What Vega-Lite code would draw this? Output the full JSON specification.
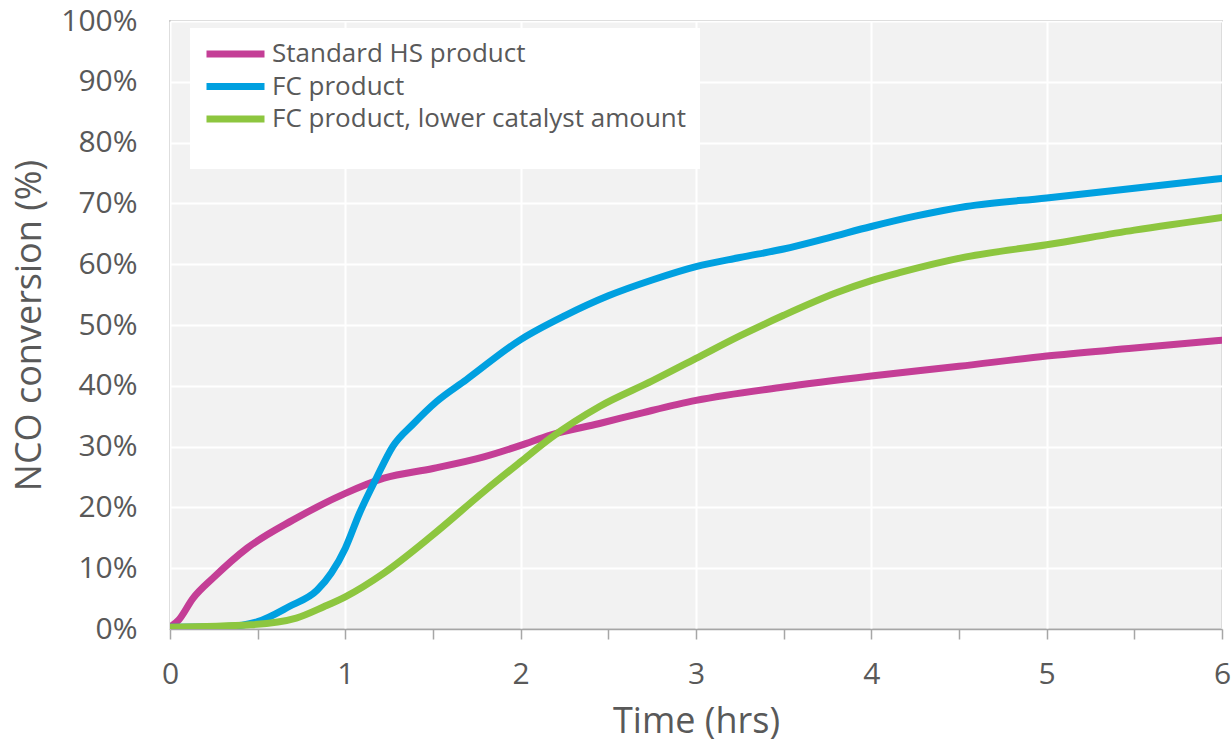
{
  "$schema": "https://vega.github.io/schema/vega-lite/v6.json",
  "width": 1052,
  "height": 608,
  "autosize": {"type": "none"},
  "padding": {"left": 170, "top": 21, "right": 10, "bottom": 115},
  "background": "white",
  "config": {
    "font": "Open Sans",
    "view": {"fill": "#F2F2F2", "stroke": "#A6A6A6", "strokeWidth": 1.5},
    "axis": {
      "labelFont": "Open Sans",
      "titleFont": "Open Sans",
      "labelColor": "#595959",
      "titleColor": "#595959",
      "labelFontSize": 30,
      "titleFontSize": 36,
      "titleFontWeight": "normal",
      "gridColor": "white",
      "gridWidth": 2
    }
  },
  "data": {
    "values": [
      {"series": "Standard HS product", "t": 0, "v": 0.3},
      {"series": "Standard HS product", "t": 0.05, "v": 1.5},
      {"series": "Standard HS product", "t": 0.13, "v": 5},
      {"series": "Standard HS product", "t": 0.25, "v": 8.5},
      {"series": "Standard HS product", "t": 0.44, "v": 13.3},
      {"series": "Standard HS product", "t": 0.7, "v": 17.9},
      {"series": "Standard HS product", "t": 1.0, "v": 22.3},
      {"series": "Standard HS product", "t": 1.22, "v": 24.8},
      {"series": "Standard HS product", "t": 1.5, "v": 26.4},
      {"series": "Standard HS product", "t": 1.79, "v": 28.3},
      {"series": "Standard HS product", "t": 2.0, "v": 30.2},
      {"series": "Standard HS product", "t": 2.17, "v": 31.9},
      {"series": "Standard HS product", "t": 2.45, "v": 33.8},
      {"series": "Standard HS product", "t": 2.7, "v": 35.6},
      {"series": "Standard HS product", "t": 3.0, "v": 37.6},
      {"series": "Standard HS product", "t": 3.5, "v": 39.8},
      {"series": "Standard HS product", "t": 4.0, "v": 41.6},
      {"series": "Standard HS product", "t": 4.5, "v": 43.2},
      {"series": "Standard HS product", "t": 5.0, "v": 44.9},
      {"series": "Standard HS product", "t": 5.5, "v": 46.2},
      {"series": "Standard HS product", "t": 6.0, "v": 47.5},

      {"series": "FC product", "t": 0, "v": 0.3},
      {"series": "FC product", "t": 0.32, "v": 0.4},
      {"series": "FC product", "t": 0.5, "v": 1.2},
      {"series": "FC product", "t": 0.68, "v": 3.7},
      {"series": "FC product", "t": 0.84, "v": 6.4},
      {"series": "FC product", "t": 0.92, "v": 9.2},
      {"series": "FC product", "t": 1.0, "v": 13.3},
      {"series": "FC product", "t": 1.08, "v": 19},
      {"series": "FC product", "t": 1.18, "v": 25},
      {"series": "FC product", "t": 1.27, "v": 30},
      {"series": "FC product", "t": 1.39, "v": 33.8},
      {"series": "FC product", "t": 1.52, "v": 37.4},
      {"series": "FC product", "t": 1.69, "v": 41},
      {"series": "FC product", "t": 2.0, "v": 47.6},
      {"series": "FC product", "t": 2.25, "v": 51.5},
      {"series": "FC product", "t": 2.5, "v": 54.8},
      {"series": "FC product", "t": 2.75, "v": 57.4},
      {"series": "FC product", "t": 3.0, "v": 59.6},
      {"series": "FC product", "t": 3.25, "v": 61.1},
      {"series": "FC product", "t": 3.5, "v": 62.5},
      {"series": "FC product", "t": 3.75, "v": 64.3},
      {"series": "FC product", "t": 4.0, "v": 66.2},
      {"series": "FC product", "t": 4.25, "v": 67.9},
      {"series": "FC product", "t": 4.54, "v": 69.5},
      {"series": "FC product", "t": 5.0, "v": 70.9},
      {"series": "FC product", "t": 5.5, "v": 72.5},
      {"series": "FC product", "t": 6.0, "v": 74.1},

      {"series": "FC product, lower catalyst amount", "t": 0, "v": 0.3},
      {"series": "FC product, lower catalyst amount", "t": 0.46, "v": 0.7},
      {"series": "FC product, lower catalyst amount", "t": 0.72, "v": 1.8},
      {"series": "FC product, lower catalyst amount", "t": 0.88, "v": 3.7},
      {"series": "FC product, lower catalyst amount", "t": 1.0, "v": 5.3},
      {"series": "FC product, lower catalyst amount", "t": 1.22, "v": 9.2},
      {"series": "FC product, lower catalyst amount", "t": 1.5, "v": 15.5},
      {"series": "FC product, lower catalyst amount", "t": 1.79, "v": 22.6},
      {"series": "FC product, lower catalyst amount", "t": 2.0, "v": 27.5},
      {"series": "FC product, lower catalyst amount", "t": 2.17, "v": 31.4},
      {"series": "FC product, lower catalyst amount", "t": 2.45, "v": 36.6},
      {"series": "FC product, lower catalyst amount", "t": 2.75, "v": 40.8},
      {"series": "FC product, lower catalyst amount", "t": 3.0, "v": 44.5},
      {"series": "FC product, lower catalyst amount", "t": 3.25, "v": 48.2},
      {"series": "FC product, lower catalyst amount", "t": 3.5, "v": 51.6},
      {"series": "FC product, lower catalyst amount", "t": 3.8, "v": 55.3},
      {"series": "FC product, lower catalyst amount", "t": 4.0, "v": 57.3},
      {"series": "FC product, lower catalyst amount", "t": 4.16, "v": 58.6},
      {"series": "FC product, lower catalyst amount", "t": 4.54, "v": 61.2},
      {"series": "FC product, lower catalyst amount", "t": 5.0, "v": 63.2},
      {"series": "FC product, lower catalyst amount", "t": 5.5, "v": 65.6},
      {"series": "FC product, lower catalyst amount", "t": 6.0, "v": 67.7}
    ]
  },
  "mark": {"type": "line", "interpolate": "monotone", "strokeWidth": 7, "strokeCap": "round", "clip": true},
  "encoding": {
    "x": {
      "field": "t",
      "type": "quantitative",
      "scale": {"domain": [0, 6], "nice": false, "zero": true},
      "axis": {
        "title": "Time (hrs)",
        "values": [0, 0.5, 1, 1.5, 2, 2.5, 3, 3.5, 4, 4.5, 5, 5.5, 6],
        "labelExpr": "datum.value % 1 === 0 ? format(datum.value, 'd') : ''",
        "labelFlush": false,
        "labelOverlap": false,
        "gridOpacity": {"condition": {"test": "datum.value % 1 === 0", "value": 1}, "value": 0},
        "domainColor": "#A6A6A6",
        "domainWidth": 1.5,
        "tickColor": "#A6A6A6",
        "tickWidth": 1.5,
        "tickSize": 10,
        "labelPadding": 20,
        "titlePadding": 15
      }
    },
    "y": {
      "field": "v",
      "type": "quantitative",
      "scale": {"domain": [0, 100], "nice": false},
      "axis": {
        "title": "NCO conversion (%)",
        "values": [0, 10, 20, 30, 40, 50, 60, 70, 80, 90, 100],
        "labelExpr": "datum.value + '%'",
        "labelFlush": false,
        "ticks": false,
        "domain": false,
        "labelPadding": 33,
        "titlePadding": 12
      }
    },
    "color": {
      "field": "series",
      "type": "nominal",
      "sort": ["Standard HS product", "FC product", "FC product, lower catalyst amount"],
      "scale": {
        "domain": ["Standard HS product", "FC product", "FC product, lower catalyst amount"],
        "range": ["#C43E96", "#00A0E0", "#8DC63F"]
      },
      "legend": {
        "orient": "none",
        "legendX": 20,
        "legendY": 7,
        "title": " ",
        "titleOrient": "bottom",
        "titleFontSize": 20,
        "titlePadding": 4,
        "fillColor": "white",
        "padding": 13,
        "clipHeight": 26,
        "symbolType": "stroke",
        "symbolSize": 3364,
        "symbolStrokeWidth": 7,
        "labelFont": "Open Sans",
        "labelFontSize": 26,
        "labelColor": "#595959",
        "labelLimit": 700,
        "labelOffset": 4,
        "rowPadding": 6.5
      }
    }
  }
}
